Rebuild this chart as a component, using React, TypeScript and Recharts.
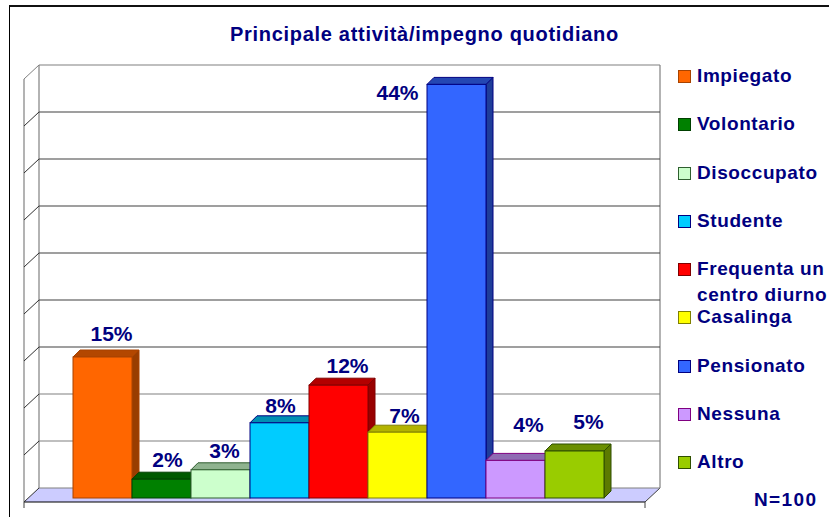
import { BarChart, Bar, XAxis, YAxis, CartesianGrid, LabelList } from 'recharts'

const CATEGORIES = ['Impiegato', 'Volontario', 'Disoccupato', 'Studente', 'Frequenta un centro diurno', 'Casalinga', 'Pensionato', 'Nessuna', 'Altro']
const VALUES = [15, 2, 3, 8, 12, 7, 44, 4, 5]
const FRONT_COLORS = ['#FF6600', '#008000', '#CCFFCC', '#00CCFF', '#FF0000', '#FFFF00', '#3366FF', '#CC99FF', '#99CC00']
const TOP_COLORS = ['#B34700', '#005A00', '#8FB38F', '#008FB3', '#B30000', '#B3B300', '#2447B3', '#8F6BB3', '#6B8F00']
const SIDE_COLORS = ['#993D00', '#004D00', '#7A997A', '#007A99', '#990000', '#999900', '#1F3D99', '#7A5C99', '#5C7A00']
const EDGE_COLORS = ['#A84300', '#004000', '#2F5F2F', '#000080', '#800000', '#808000', '#000080', '#800080', '#2F4F00']
const Y_TICKS = [0, 5, 10, 15, 20, 25, 30, 35, 40, 45]

// label nudges from the centre of each bar's front face, hand placed in the original
const LABEL_DX = [9, 6, 4, 1, 9, 7, -59, 13, 14]
const LABEL_DY = [-22, -18, -17, -15, -18, -15, 10, -34, -28]

const GRID_GRAY = '#808080'
const NAVY = '#000080'
const FONT = '"Liberation Sans", Arial, sans-serif'
const DEPTH = 7
const PLOT_H = 423

const data = CATEGORIES.map((name, i) => ({ name, value: VALUES[i], index: i }))

function Bar3D(props: any) {
    const { x, y, width: w, height: h, index } = props
    const edge = EDGE_COLORS[index]
    return (
        <g>
            <polygon points={`${x + w},${y} ${x + w + DEPTH},${y - DEPTH} ${x + w + DEPTH},${y + h - DEPTH} ${x + w},${y + h}`} fill={SIDE_COLORS[index]} stroke={edge} />
            <polygon points={`${x},${y} ${x + DEPTH},${y - DEPTH} ${x + w + DEPTH},${y - DEPTH} ${x + w},${y}`} fill={TOP_COLORS[index]} stroke={edge} />
            <rect x={x} y={y} width={w} height={h} fill={FRONT_COLORS[index]} stroke={edge} />
        </g>
    )
}

function GridLine(props: any) {
    const { x1, x2, y1, index } = props
    const left = x1 + 8
    const right = x2 + 8
    const frontLeft = x1 - 7
    const frontRight = x2 - 7
    const back = y1 - 10
    const front = y1 + 4
    const isFloor = y1 > 490
    return (
        <g key={index}>
            {isFloor && (
                <g>
                    <polygon points={`${frontLeft},${front} ${left},${back} ${right},${back} ${frontRight},${front}`} fill="#CCCCFF" />
                    <line x1={frontLeft} y1={front - PLOT_H} x2={frontLeft} y2={front} stroke={GRID_GRAY} strokeWidth={1.2} />
                    <line x1={left} y1={back - PLOT_H} x2={left} y2={back} stroke={GRID_GRAY} strokeWidth={1.2} />
                    <line x1={right} y1={back - PLOT_H} x2={right} y2={back} stroke={GRID_GRAY} strokeWidth={1.2} />
                    <line x1={frontRight} y1={front} x2={right} y2={back} stroke="#404040" />
                    <line x1={frontLeft} y1={front} x2={frontRight} y2={front} stroke="#000" strokeWidth={1.2} />
                    <line x1={frontLeft} y1={front} x2={frontLeft} y2={front + 6} stroke="#404040" />
                    <line x1={frontRight} y1={front} x2={frontRight} y2={front + 6} stroke="#404040" />
                </g>
            )}
            <line x1={left} y1={back} x2={right} y2={back} stroke={y1 < 85 || y1 > 400 ? GRID_GRAY : '#404040'} strokeWidth={1.2} />
            <line x1={left} y1={back} x2={frontLeft} y2={front} stroke={y1 < 85 ? GRID_GRAY : '#303030'} />
        </g>
    )
}

function ValueLabel(props: any) {
    const { x, y, width, index, value } = props
    return (
        <text x={x + width / 2 + LABEL_DX[index]} y={y + LABEL_DY[index]} textAnchor="middle" dominantBaseline="middle" fontFamily={FONT} fontWeight="bold" fontSize={21} fill={NAVY}>
            {value}%
        </text>
    )
}

function LegendList() {
    return (
        <div style={{ position: 'absolute', left: 678, top: 63, width: 151, fontFamily: FONT, fontWeight: 'bold', fontSize: 19, letterSpacing: 0.6, color: NAVY }}>
            {CATEGORIES.map((name, i) => (
                <div key={name} style={{ position: 'relative', height: 48.3 }}>
                    <span style={{ position: 'absolute', left: 0, top: 7, width: 11, height: 11, background: FRONT_COLORS[i], border: `1px solid ${EDGE_COLORS[i]}` }} />
                    <span style={{ position: 'absolute', left: 19, top: 0, width: 140, lineHeight: '26px' }}>{name}</span>
                </div>
            ))}
        </div>
    )
}

export default function App() {
    return (
        <div style={{ position: 'absolute', left: 0, top: 0, width: 829, height: 517, overflow: 'hidden', background: '#fff' }}>
            <div style={{ position: 'absolute', left: 9, top: 5, width: 819, height: 600, borderTop: '2px solid #111', borderLeft: '1px solid #000' }} />
            <div style={{ position: 'absolute', left: 230, top: 23, fontFamily: FONT, fontWeight: 'bold', fontSize: 20, letterSpacing: 0.7, color: NAVY, whiteSpace: 'nowrap' }}>
                Principale attività/impegno quotidiano
            </div>
            <div style={{ position: 'absolute', left: 754, top: 489, fontFamily: FONT, fontWeight: 'bold', fontSize: 19, letterSpacing: 1.4, color: NAVY }}>N=100</div>
            <div style={{ position: 'absolute', left: 0, top: 0 }}>
                <BarChart width={829} height={517} data={data} barCategoryGap={0} margin={{ top: 75, right: 177, bottom: 19, left: 31 }}>
                    <CartesianGrid vertical={false} horizontal={GridLine} />
                    <XAxis dataKey="name" hide padding={{ left: 42, right: 48 }} />
                    <YAxis hide domain={[0, 45]} ticks={Y_TICKS} />
                    <Bar dataKey="value" shape={Bar3D} isAnimationActive={false}>
                        <LabelList dataKey="value" content={ValueLabel} />
                    </Bar>
                </BarChart>
            </div>
            <LegendList />
        </div>
    )
}
